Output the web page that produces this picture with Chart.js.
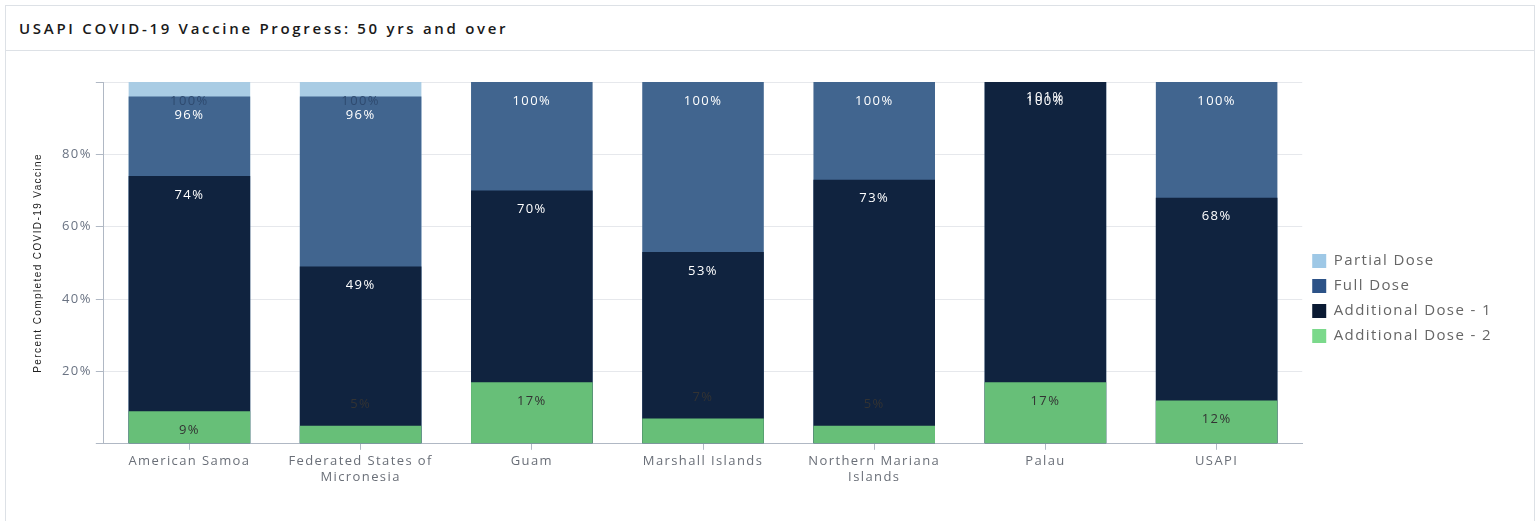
<!DOCTYPE html>
<html>
<head>
<meta charset="utf-8">
<script src="https://cdn.jsdelivr.net/npm/chart.js@4.4.1/dist/chart.umd.min.js"></script>
<style>
  body { margin: 0; background: #fff; font-family: "Open Sans", sans-serif; overflow: hidden; }
  .card { position: absolute; left: 5px; top: 5px; width: 1530px; height: 560px; border: 1px solid #dde1e6; box-sizing: border-box; }
  .card h1 { margin: 0; height: 44px; line-height: 44px; padding-left: 13px; font-size: 15px; font-weight: 600; color: #1a1a1a; border-bottom: 1px solid #dde1e6; letter-spacing: 2.7px; }
  .wrap { position: absolute; left: 0; top: 46px; width: 1528px; height: 490px; }
</style>
</head>
<body>
<div class="card">
  <h1>USAPI COVID-19 Vaccine Progress: 50 yrs and over</h1>
  <div class="wrap"><canvas id="vaxChart"></canvas></div>
</div>
<script>
// categories
const places = [
    'American Samoa', ['Federated States of', 'Micronesia'], 'Guam', 'Marshall Islands',
    ['Northern Mariana', 'Islands'], 'Palau', 'USAPI'
];
// cumulative percentages, bars overlap from 0
const partialDose = [100, 100, null, null, null, null, null];
const fullDose = [96, 96, 100, 100, 100, 100, 100];
const additional1 = [74, 49, 70, 53, 73, 101, 68];
const additional2 = [9, 5, 17, 7, 5, 17, 12];

const seriesNames = ['Partial Dose', 'Full Dose', 'Additional Dose - 1', 'Additional Dose - 2'];
const barColors = ['#a9cce4', '#41658f', '#10233f', '#67bf78'];
const legendColors = ['#9ec8e6', '#2c5287', '#0a1a33', '#7bd98b'];
const labelColors = ['#2f4b70', '#ffffff', '#ffffff', '#333333'];

// the source renders text rather spread out
const spacing = {
    id: 'spacing',
    beforeUpdate(chart) { chart.ctx.letterSpacing = '1.4px'; },
    beforeDraw(chart) { chart.ctx.letterSpacing = '1.4px'; }
};

// percent labels near the top of each bar
const barLabels = {
    id: 'barLabels',
    afterDatasetsDraw(chart) {
        const ctx = chart.ctx;
        ctx.save();
        ctx.font = '13px "Open Sans", sans-serif';
        ctx.textAlign = 'center';
        ctx.textBaseline = 'middle';
        chart.data.datasets.forEach((ds, i) => {
            const meta = chart.getDatasetMeta(i);
            meta.data.forEach((bar, j) => {
                const v = ds.data[j];
                if (v == null) return;
                const h = bar.base - bar.y;
                let y = h < 30 ? bar.y - 21 : bar.y + 19;
                ctx.fillStyle = labelColors[i];
                ctx.fillText(v + '%', bar.x, y);
            });
        });
        ctx.restore();
    }
};

const datasets = [partialDose, fullDose, additional1, additional2].map((d, i) => ({
    label: seriesNames[i],
    data: d,
    backgroundColor: barColors[i],
    order: 4 - i,
    grouped: false,
    barPercentage: 0.71,
    categoryPercentage: 1
}));

new Chart(document.getElementById('vaxChart').getContext('2d'), {
    type: 'bar',
    data: { labels: places, datasets: datasets },
    plugins: [spacing, barLabels],
    options: {
        responsive: true,
        maintainAspectRatio: false,
        animation: false,
        layout: { padding: { top: 30, right: 32, left: 22, bottom: 53 } },
        plugins: {
            tooltip: { enabled: false },
            legend: {
                position: 'right',
                // empty title only pushes the items down a little
                title: { display: true, text: '', font: { size: 10 }, padding: { top: 14, bottom: 0 } },
                labels: {
                    boxWidth: 14,
                    boxHeight: 14,
                    padding: 10,
                    color: '#222',
                    font: { family: '"Open Sans", sans-serif', size: 15 },
                    generateLabels: () => seriesNames.map((n, i) => ({
                        text: n, fillStyle: legendColors[i], strokeStyle: legendColors[i],
                        lineWidth: 0, datasetIndex: i, hidden: false
                    }))
                }
            }
        },
        scales: {
            x: {
                grid: { display: true, drawOnChartArea: false, offset: false, tickLength: 6, color: '#b0b8c4' },
                border: { color: '#b0b8c4' },
                ticks: { color: '#6a6f78', font: { family: '"Open Sans", sans-serif', size: 13 }, maxRotation: 0, padding: 4 }
            },
            y: {
                min: 0,
                max: 100,
                ticks: {
                    stepSize: 20,
                    color: '#6a7383',
                    padding: 4,
                    font: { family: '"Open Sans", sans-serif', size: 13 },
                    callback: v => (v === 0 || v === 100) ? '' : v + '%'
                },
                grid: { color: '#e6e8ec', tickLength: 8, tickColor: '#b0b8c4' },
                border: { color: '#b0b8c4' },
                title: {
                    display: true,
                    text: 'Percent Completed COVID-19 Vaccine',
                    color: '#222',
                    font: { family: '"Liberation Sans Narrow", "Liberation Sans", sans-serif', size: 10 },
                    padding: { bottom: 14 }
                }
            }
        }
    }
});
</script>
</body>
</html>
